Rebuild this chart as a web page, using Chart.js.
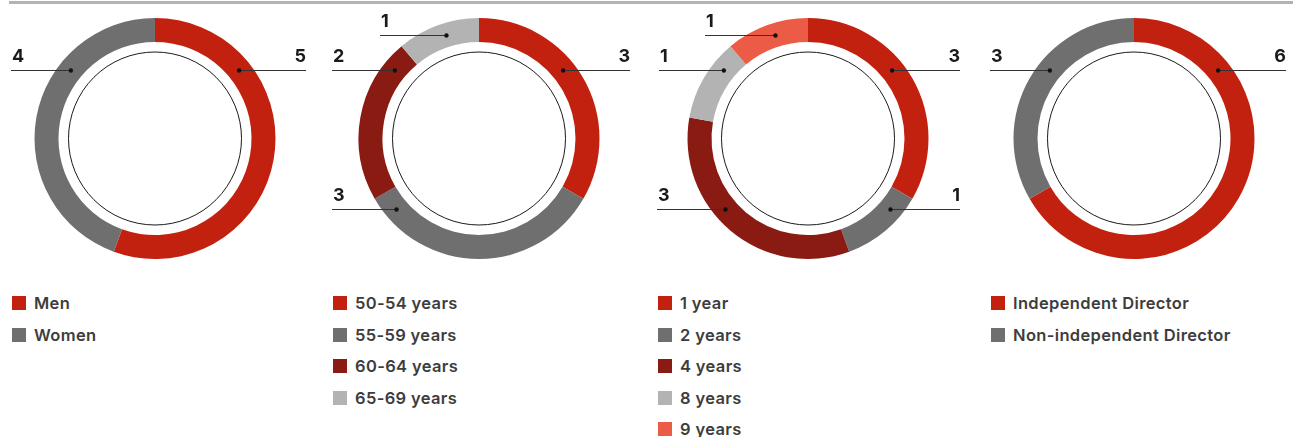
<!DOCTYPE html>
<html>
<head>
<meta charset="utf-8">
<script src="https://cdn.jsdelivr.net/npm/chart.js@4/dist/chart.umd.min.js"></script>
<style>
  body { margin: 0; background: #fff; width: 1293px; height: 437px; overflow: hidden; position: relative; font-family: Inter, "Noto Sans", sans-serif; }
  .topbar { position: absolute; left: 9px; top: 1px; width: 1284px; height: 3px; background: #b3b3b3; }
  canvas { position: absolute; top: 0; }
  .legend { position: absolute; top: 295px; }
  .legend .row { position: absolute; left: 0; height: 16px; white-space: nowrap; }
  .legend .sw { position: absolute; left: 0; top: 1px; width: 14px; height: 14px; }
  .legend .tx { position: absolute; left: 22px; top: -2px; font-size: 16.5px; letter-spacing: 0.35px; font-weight: 600; color: #3d3d3d; line-height: 20px; }
</style>
</head>
<body>
<div class="topbar"></div>
<div id="wrap"></div>
<script>
// data
const genderLabels = ['Men', 'Women'];
const genderValues = [5, 4];
const ageLabels = ['50-54 years', '55-59 years', '60-64 years', '65-69 years'];
const ageValues = [3, 3, 2, 1];
const tenureLabels = ['1 year', '2 years', '4 years', '8 years', '9 years'];
const tenureValues = [3, 1, 3, 1, 1];
const indepLabels = ['Independent Director', 'Non-independent Director'];
const indepValues = [6, 3];

// colours
const RED = '#c3210f', GREY = '#6f6f6f', DARK = '#8a1b12', LIGHT = '#b3b3b3', SALMON = '#ec5b45';

/* ===== layout of each panel: centre x, legend x, callouts [index, rowY, side, line end offset] ===== */
const panels = [
  { labels: genderLabels, values: genderValues, colors: [RED, GREY], cx: 155, legendX: 12,
    callouts: [[0, 70, 1, 151], [1, 70, -1, -144]] },
  { labels: ageLabels, values: ageValues, colors: [RED, GREY, DARK, LIGHT], cx: 479, legendX: 333,
    callouts: [[0, 70, 1, 151], [1, 209, -1, -147], [2, 70, -1, -147], [3, 35, -1, -99]] },
  { labels: tenureLabels, values: tenureValues, colors: [RED, GREY, DARK, LIGHT, SALMON], cx: 808, legendX: 658,
    callouts: [[0, 70, 1, 152], [1, 209, 1, 152], [2, 209, -1, -151], [3, 70, -1, -149], [4, 35, -1, -103]] },
  { labels: indepLabels, values: indepValues, colors: [RED, GREY], cx: 1134, legendX: 991,
    callouts: [[0, 70, 1, 152], [1, 70, -1, -144]] }
];

const CW = 320, CH = 280, R_OUT = 120.5, R_IN = 96.5, R_THIN = 86.5;

const calloutPlugin = {
  id: 'callouts',
  afterDraw(chart, args, opts) {
    const ctx = chart.ctx;
    const meta = chart.getDatasetMeta(0);
    const first = meta.data[0];
    const cx = first.x, cy = first.y;
    ctx.save();
    // thin inner circle
    ctx.beginPath();
    ctx.arc(cx, cy, R_THIN, 0, Math.PI * 2);
    ctx.strokeStyle = '#1a1a1a';
    ctx.lineWidth = 1;
    ctx.stroke();
    // leader lines
    opts.items.forEach(([i, rowY, side, endOff]) => {
      const arc = meta.data[i];
      const r = (arc.innerRadius + arc.outerRadius) / 2;
      const dy = rowY - cy;
      const dotX = cx + side * Math.sqrt(Math.max(r * r - dy * dy, 0));
      const endX = cx + endOff;
      ctx.beginPath();
      ctx.moveTo(dotX, rowY + 0.5);
      ctx.lineTo(endX, rowY + 0.5);
      ctx.strokeStyle = '#333';
      ctx.lineWidth = 1;
      ctx.stroke();
      ctx.beginPath();
      ctx.arc(dotX, rowY + 0.5, 2.2, 0, Math.PI * 2);
      ctx.fillStyle = '#111';
      ctx.fill();
      ctx.font = '700 18px Inter, "Noto Sans", sans-serif';
      ctx.fillStyle = '#1a1a1a';
      ctx.textBaseline = 'alphabetic';
      ctx.textAlign = side > 0 ? 'right' : 'left';
      ctx.fillText(String(chart.data.datasets[0].data[i]), side > 0 ? endX : endX + 1, rowY - 8);
    });
    ctx.restore();
  }
};

const wrap = document.getElementById('wrap');
panels.forEach(p => {
  const cv = document.createElement('canvas');
  cv.width = CW; cv.height = CH;
  cv.style.left = (p.cx - 155) + 'px';
  cv.style.width = CW + 'px'; cv.style.height = CH + 'px';
  wrap.appendChild(cv);

  new Chart(cv.getContext('2d'), {
    type: 'doughnut',
    data: {
      labels: p.labels,
      datasets: [{
        data: p.values,
        backgroundColor: p.colors,
        borderWidth: 0,
        hoverOffset: 0,
        offset: 0
      }]
    },
    options: {
      responsive: false,
      maintainAspectRatio: false,
      animation: false,
      events: [],
      radius: R_OUT,
      cutout: R_IN,
      layout: { padding: { left: 155 - R_OUT, right: CW - 155 - R_OUT, top: 18, bottom: CH - 18 - 2 * R_OUT } },
      plugins: {
        legend: { display: false },
        tooltip: { enabled: false },
        callouts: { items: p.callouts }
      }
    },
    plugins: [calloutPlugin]
  });

  // legend
  const lg = document.createElement('div');
  lg.className = 'legend';
  lg.style.left = p.legendX + 'px';
  p.labels.forEach((lab, i) => {
    const row = document.createElement('div');
    row.className = 'row';
    row.style.top = (i * 31.5) + 'px';
    row.innerHTML = '<span class="sw" style="background:' + p.colors[i] + '"></span><span class="tx">' + lab + '</span>';
    lg.appendChild(row);
  });
  document.body.appendChild(lg);
});
</script>
</body>
</html>
